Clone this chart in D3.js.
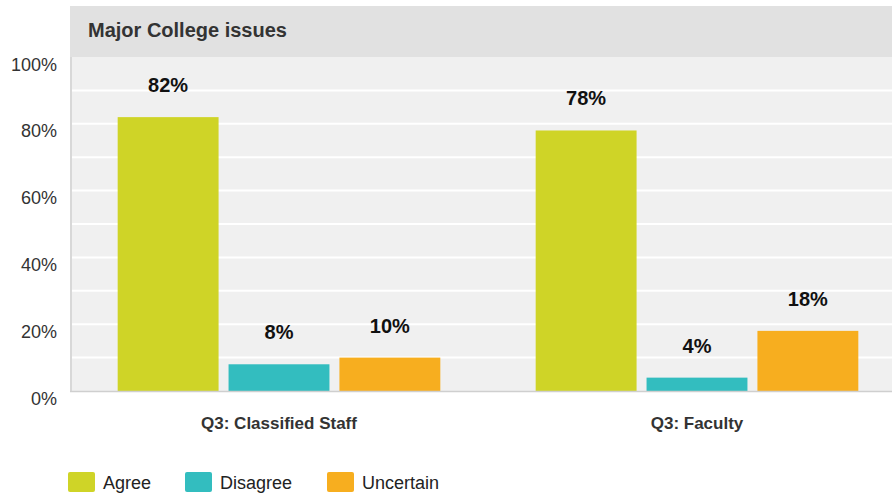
<!DOCTYPE html>
<meta charset="utf-8">
<head>
  <title>Major College issues</title>
  <script src="https://d3js.org/d3.v7.min.js"></script>
</head>
<style>
  body { margin: 0; background: #fff; }
  text { font-family: "Liberation Sans", Arial, sans-serif; }
</style>
<body>
<svg></svg>
<script>

// data
const categories = ["Q3: Classified Staff", "Q3: Faculty"];
const seriesNames = ["Agree", "Disagree", "Uncertain"];
const agree = [82, 78];
const disagree = [8, 4];
const uncertain = [10, 18];
const yTicks = [0, 20, 40, 60, 80, 100];

const colors = ["#cfd427", "#33bdbf", "#f7ae1f"];
const values = [agree, disagree, uncertain];

const W = 892, H = 496;
const plot = {left: 70, top: 57, bottom: 391, right: 906};

const svg = d3.select("svg").attr("width", W).attr("height", H);

const y = d3.scaleLinear().domain([0, 100]).range([plot.bottom, plot.top]);
const x0 = d3.scaleBand().domain(categories).range([plot.left, plot.right]);
const x1 = d3.scaleBand().domain(seriesNames).range([0, x0.bandwidth()])
  .paddingInner(0.09).paddingOuter(0.43);

// title band + panel
svg.append("rect").attr("x", plot.left).attr("y", 6)
  .attr("width", W - plot.left).attr("height", plot.top - 6).attr("fill", "#e1e1e1");
svg.append("text").attr("x", 88).attr("y", 37)
  .attr("font-size", 20).attr("font-weight", "bold").attr("fill", "#333")
  .text("Major College issues");

svg.append("rect").attr("x", plot.left).attr("y", plot.top)
  .attr("width", W - plot.left).attr("height", plot.bottom - plot.top).attr("fill", "#f0f0f0");

// gridlines every 10%
svg.append("g").selectAll("line")
  .data(d3.range(10, 100, 10))
  .join("line")
  .attr("x1", plot.left).attr("x2", W)
  .attr("y1", d => y(d)).attr("y2", d => y(d))
  .attr("stroke", "#fff").attr("stroke-width", 2);

// axis lines
svg.append("line").attr("x1", plot.left + 1).attr("x2", plot.left + 1)
  .attr("y1", plot.top).attr("y2", plot.bottom)
  .attr("stroke", "#d8d8d8").attr("stroke-width", 2);

// y labels
svg.append("g").selectAll("text")
  .data(yTicks)
  .join("text")
  .attr("x", 57).attr("y", d => y(d) + 13.5)
  .attr("text-anchor", "end").attr("font-size", 18).attr("fill", "#333")
  .text(d => d + "%");

// bars
const groups = svg.append("g").selectAll("g")
  .data(categories)
  .join("g")
  .attr("transform", d => `translate(${x0(d)},0)`);

groups.selectAll("rect")
  .data((c, i) => seriesNames.map((s, j) => ({s, j, v: values[j][i]})))
  .join("rect")
  .attr("x", d => x1(d.s))
  .attr("y", d => y(d.v))
  .attr("width", x1.bandwidth())
  .attr("height", d => plot.bottom - y(d.v))
  .attr("fill", d => colors[d.j]);

groups.selectAll("text.val")
  .data((c, i) => seriesNames.map((s, j) => ({s, j, v: values[j][i]})))
  .join("text")
  .attr("class", "val")
  .attr("x", d => x1(d.s) + x1.bandwidth() / 2)
  .attr("y", d => y(d.v) - 25)
  .attr("text-anchor", "middle").attr("font-size", 20).attr("font-weight", "bold").attr("fill", "#111")
  .text(d => d.v + "%");

svg.append("line").attr("x1", plot.left).attr("x2", W)
  .attr("y1", plot.bottom + 0.5).attr("y2", plot.bottom + 0.5)
  .attr("stroke", "#cfcfcf").attr("stroke-width", 1.5);

// category labels
svg.append("g").selectAll("text")
  .data(categories)
  .join("text")
  .attr("x", d => x0(d) + x0.bandwidth() / 2)
  .attr("y", 429)
  .attr("text-anchor", "middle").attr("font-size", 17).attr("font-weight", "bold").attr("fill", "#333")
  .text(d => d);

// legend
const legendX = [68, 185, 327];
const legend = svg.append("g").selectAll("g")
  .data(seriesNames)
  .join("g")
  .attr("transform", (d, i) => `translate(${legendX[i]},472)`);
legend.append("rect").attr("width", 27).attr("height", 20).attr("rx", 2)
  .attr("fill", (d, i) => colors[i]);
legend.append("text").attr("x", 35).attr("y", 16.5)
  .attr("font-size", 18).attr("fill", "#222")
  .text(d => d);

</script>
</body>
